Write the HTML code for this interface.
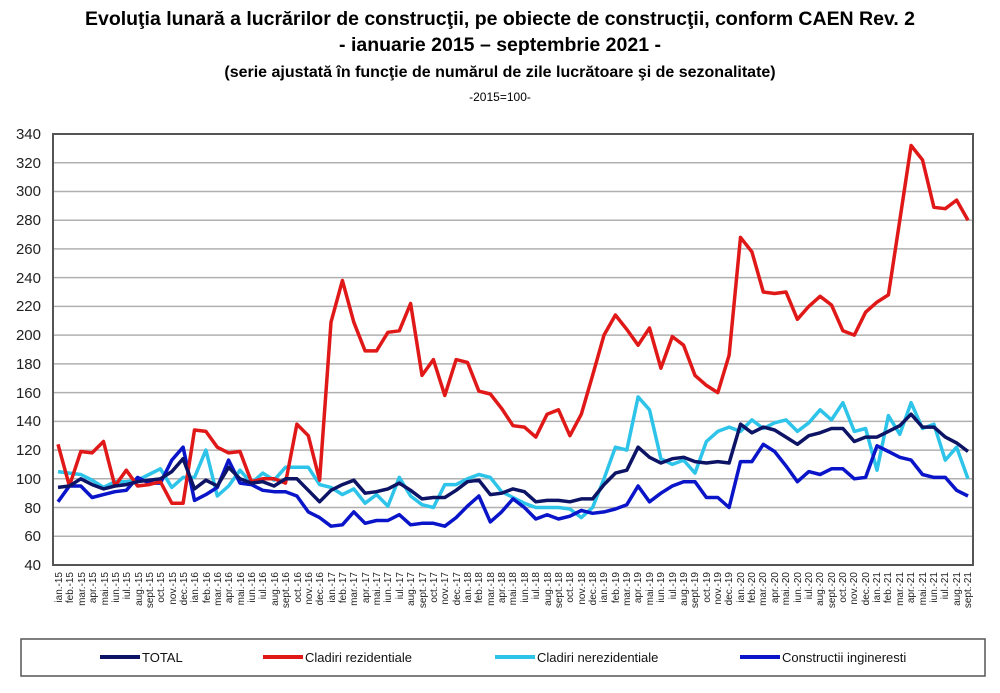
<!DOCTYPE html>
<html><head><meta charset="utf-8">
<style>
html,body{margin:0;padding:0;background:#fff;}
body{width:1000px;height:688px;overflow:hidden;font-family:"Liberation Sans",sans-serif;}
</style></head>
<body>
<svg id="c" width="1000" height="688" xmlns="http://www.w3.org/2000/svg" font-family="Liberation Sans, sans-serif">
<text x="500" y="25" font-size="19.5" font-weight="bold" text-anchor="middle" textLength="830" lengthAdjust="spacingAndGlyphs">Evoluţia lunară a lucrărilor de construcţii, pe obiecte de construcţii, conform CAEN Rev. 2</text>
<text x="500" y="51" font-size="19.5" font-weight="bold" text-anchor="middle">- ianuarie 2015 – septembrie 2021 -</text>
<text x="500" y="77" font-size="16" font-weight="bold" text-anchor="middle">(serie ajustată în funcţie de numărul de zile lucrătoare şi de sezonalitate)</text>
<text x="500" y="101" font-size="12" text-anchor="middle">-2015=100-</text>
<g id="grid" stroke="#b0b0b0" stroke-width="1.5"></g>
<g font-size="15" text-anchor="end" fill="#222">
<text x="41" y="139">340</text><text x="41" y="168">320</text><text x="41" y="196">300</text><text x="41" y="225">280</text><text x="41" y="254">260</text><text x="41" y="283">240</text><text x="41" y="311">220</text><text x="41" y="340">200</text><text x="41" y="369">180</text><text x="41" y="398">160</text><text x="41" y="426">140</text><text x="41" y="455">120</text><text x="41" y="484">100</text><text x="41" y="513">80</text><text x="41" y="541">60</text><text x="41" y="570">40</text>
</g>
<g id="series" fill="none" stroke-width="3.5" stroke-linejoin="round"></g>
<rect x="53" y="134" width="920" height="431" fill="none" stroke="#555" stroke-width="2"/>
<g id="xl" font-size="10" text-anchor="end" fill="#222">
<text transform="translate(62,572) rotate(-90)">ian.-15</text><text transform="translate(73,572) rotate(-90)">feb.-15</text><text transform="translate(85,572) rotate(-90)">mar.-15</text><text transform="translate(96,572) rotate(-90)">apr.-15</text><text transform="translate(108,572) rotate(-90)">mai.-15</text><text transform="translate(119,572) rotate(-90)">iun.-15</text><text transform="translate(130,572) rotate(-90)">iul.-15</text><text transform="translate(142,572) rotate(-90)">aug.-15</text><text transform="translate(153,572) rotate(-90)">sept.-15</text><text transform="translate(164,572) rotate(-90)">oct.-15</text><text transform="translate(176,572) rotate(-90)">nov.-15</text><text transform="translate(187,572) rotate(-90)">dec.-15</text>
<text transform="translate(198,572) rotate(-90)">ian.-16</text><text transform="translate(210,572) rotate(-90)">feb.-16</text><text transform="translate(221,572) rotate(-90)">mar.-16</text><text transform="translate(232,572) rotate(-90)">apr.-16</text><text transform="translate(244,572) rotate(-90)">mai.-16</text><text transform="translate(255,572) rotate(-90)">iun.-16</text><text transform="translate(266,572) rotate(-90)">iul.-16</text><text transform="translate(278,572) rotate(-90)">aug.-16</text><text transform="translate(289,572) rotate(-90)">sept.-16</text><text transform="translate(301,572) rotate(-90)">oct.-16</text><text transform="translate(312,572) rotate(-90)">nov.-16</text><text transform="translate(323,572) rotate(-90)">dec.-16</text>
<text transform="translate(335,572) rotate(-90)">ian.-17</text><text transform="translate(346,572) rotate(-90)">feb.-17</text><text transform="translate(357,572) rotate(-90)">mar.-17</text><text transform="translate(369,572) rotate(-90)">apr.-17</text><text transform="translate(380,572) rotate(-90)">mai.-17</text><text transform="translate(391,572) rotate(-90)">iun.-17</text><text transform="translate(403,572) rotate(-90)">iul.-17</text><text transform="translate(414,572) rotate(-90)">aug.-17</text><text transform="translate(426,572) rotate(-90)">sept.-17</text><text transform="translate(437,572) rotate(-90)">oct.-17</text><text transform="translate(448,572) rotate(-90)">nov.-17</text><text transform="translate(460,572) rotate(-90)">dec.-17</text>
<text transform="translate(471,572) rotate(-90)">ian.-18</text><text transform="translate(482,572) rotate(-90)">feb.-18</text><text transform="translate(494,572) rotate(-90)">mar.-18</text><text transform="translate(505,572) rotate(-90)">apr.-18</text><text transform="translate(516,572) rotate(-90)">mai.-18</text><text transform="translate(528,572) rotate(-90)">iun.-18</text><text transform="translate(539,572) rotate(-90)">iul.-18</text><text transform="translate(551,572) rotate(-90)">aug.-18</text><text transform="translate(562,572) rotate(-90)">sept.-18</text><text transform="translate(573,572) rotate(-90)">oct.-18</text><text transform="translate(585,572) rotate(-90)">nov.-18</text><text transform="translate(596,572) rotate(-90)">dec.-18</text>
<text transform="translate(607,572) rotate(-90)">ian.-19</text><text transform="translate(619,572) rotate(-90)">feb.-19</text><text transform="translate(630,572) rotate(-90)">mar.-19</text><text transform="translate(641,572) rotate(-90)">apr.-19</text><text transform="translate(653,572) rotate(-90)">mai.-19</text><text transform="translate(664,572) rotate(-90)">iun.-19</text><text transform="translate(676,572) rotate(-90)">iul.-19</text><text transform="translate(687,572) rotate(-90)">aug.-19</text><text transform="translate(698,572) rotate(-90)">sept.-19</text><text transform="translate(710,572) rotate(-90)">oct.-19</text><text transform="translate(721,572) rotate(-90)">nov.-19</text><text transform="translate(732,572) rotate(-90)">dec.-19</text>
<text transform="translate(744,572) rotate(-90)">ian.-20</text><text transform="translate(755,572) rotate(-90)">feb.-20</text><text transform="translate(766,572) rotate(-90)">mar.-20</text><text transform="translate(778,572) rotate(-90)">apr.-20</text><text transform="translate(789,572) rotate(-90)">mai.-20</text><text transform="translate(801,572) rotate(-90)">iun.-20</text><text transform="translate(812,572) rotate(-90)">iul.-20</text><text transform="translate(823,572) rotate(-90)">aug.-20</text><text transform="translate(835,572) rotate(-90)">sept.-20</text><text transform="translate(846,572) rotate(-90)">oct.-20</text><text transform="translate(857,572) rotate(-90)">nov.-20</text><text transform="translate(869,572) rotate(-90)">dec.-20</text>
<text transform="translate(880,572) rotate(-90)">ian.-21</text><text transform="translate(891,572) rotate(-90)">feb.-21</text><text transform="translate(903,572) rotate(-90)">mar.-21</text><text transform="translate(914,572) rotate(-90)">apr.-21</text><text transform="translate(926,572) rotate(-90)">mai.-21</text><text transform="translate(937,572) rotate(-90)">iun.-21</text><text transform="translate(948,572) rotate(-90)">iul.-21</text><text transform="translate(960,572) rotate(-90)">aug.-21</text><text transform="translate(971,572) rotate(-90)">sept.-21</text>
</g>
<rect x="21" y="639" width="964" height="37" fill="#fff" stroke="#555" stroke-width="1.5"/>
<g font-size="13" fill="#111">
<line x1="100" y1="657" x2="140" y2="657" stroke="#0d1466" stroke-width="4"/><text x="142" y="662">TOTAL</text>
<line x1="263" y1="657" x2="303" y2="657" stroke="#e01818" stroke-width="4"/><text x="305" y="662">Cladiri rezidentiale</text>
<line x1="495" y1="657" x2="535" y2="657" stroke="#2ec4ea" stroke-width="4"/><text x="537" y="662">Cladiri nerezidentiale</text>
<line x1="740" y1="657" x2="780" y2="657" stroke="#0a14c8" stroke-width="4"/><text x="782" y="662">Constructii ingineresti</text>
</g>
</svg>
<script>
(function(){
var NS="http://www.w3.org/2000/svg";
function Y(v){return 134+(340-v)*1.4367;}
function X(i){return 58+11.375*i;}
var g=document.getElementById("grid");
for(var v=60;v<=320;v+=20){var l=document.createElementNS(NS,"line");l.setAttribute("x1",53);l.setAttribute("x2",973);l.setAttribute("y1",Y(v));l.setAttribute("y2",Y(v));g.appendChild(l);}
var cyan=[105,104,103,99,94,98,98,99,103,107,94,101,101,120,88,95,106,97,104,99,108,108,108,96,94,89,93,83,89,81,101,88,82,80,96,96,100,103,101,91,87,83,80,80,80,79,73,80,100,122,120,157,148,114,110,113,104,126,133,136,133,141,135,139,141,133,139,148,141,153,133,135,106,144,131,153,135,138,113,122,100];
var blue=[84,95,95,87,89,91,92,101,97,97,113,122,85,89,94,113,97,96,92,91,91,88,77,73,67,68,77,69,71,71,75,68,69,69,67,73,81,88,70,77,86,80,72,75,72,74,78,76,77,79,82,95,84,90,95,98,98,87,87,80,112,112,124,119,109,98,105,103,107,107,100,101,123,119,115,113,103,101,101,92,88];
var red=[124,95,119,118,126,95,106,95,96,98,83,83,134,133,122,118,119,98,100,100,97,138,130,99,209,238,209,189,189,202,203,222,172,183,158,183,181,161,159,149,137,136,129,145,148,130,145,172,200,214,204,193,205,177,199,193,172,165,160,186,268,258,230,229,230,211,220,227,221,203,200,216,223,228,280,332,322,289,288,294,280];
var tot=[94,95,100,96,93,95,96,98,99,100,105,114,93,99,95,108,100,97,98,95,100,100,92,84,92,96,99,90,91,93,97,92,86,87,87,92,98,99,89,90,93,91,84,85,85,84,86,86,96,104,106,122,115,111,114,115,112,111,112,111,138,132,136,134,129,124,130,132,135,135,126,129,129,133,137,145,136,136,129,125,119];
var s=document.getElementById("series");
[[cyan,"#2ec4ea"],[blue,"#0a14c8"],[red,"#e01818"],[tot,"#0d1466"]].forEach(function(d){
var p=document.createElementNS(NS,"polyline");
p.setAttribute("points",d[0].map(function(v,i){return X(i).toFixed(1)+","+Y(v).toFixed(1);}).join(" "));
p.setAttribute("stroke",d[1]);s.appendChild(p);});
})();
</script>
</body></html>
